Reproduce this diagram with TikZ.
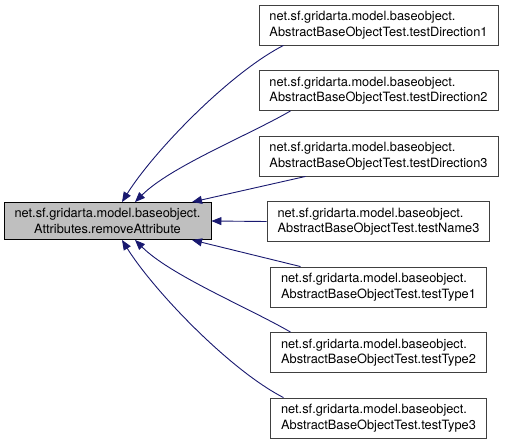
\documentclass[tikz,border=0pt]{standalone}
\usepackage{fontspec}
\setmainfont{TeX Gyre Heros}
\usepackage{xcolor}
\usepackage{tikz}
\usetikzlibrary{arrows.meta,positioning}
\definecolor{edgeblue}{HTML}{191970}
\definecolor{grey75}{HTML}{BFBFBF}
\definecolor{grey25}{HTML}{404040}
\tikzset{
  rootbox/.style={
    rectangle, draw=black, fill=grey75, line width=0.9pt,
    minimum width=207pt, minimum height=37pt,
    font=\fontsize{12.8}{15.5}\selectfont, align=center,
    inner sep=0pt
  },
  testbox/.style={
    rectangle, draw=grey25, fill=white, line width=0.9pt,
    minimum height=40pt,
    font=\fontsize{12.8}{15.5}\selectfont, align=left,
    inner xsep=10.5pt, inner ysep=0pt
  },
  callarrow/.style={
    -{Triangle[length=10pt,width=8pt]}, line width=0.9pt, color=edgeblue
  },
}
\begin{document}
\begin{tikzpicture}[
  x=1pt, y=1pt,
  node distance=24.6pt
]
\useasboundingbox (0,0) rectangle (508,-444);

% Called function
\node[rootbox] (remove) at (107.5,-221) {net.sf.gridarta.model.baseobject.\\Attributes.removeAttribute};

% Callers
\node[testbox] (dir1) at (378.5,-25) {net.sf.gridarta.model.baseobject.\\AbstractBaseObjectTest.testDirection1};
\node[testbox, below=of dir1] (dir2) {net.sf.gridarta.model.baseobject.\\AbstractBaseObjectTest.testDirection2};
\node[testbox, below=of dir2] (dir3) {net.sf.gridarta.model.baseobject.\\AbstractBaseObjectTest.testDirection3};
\node[testbox, below=of dir3] (name3) {net.sf.gridarta.model.baseobject.\\AbstractBaseObjectTest.testName3};
\node[testbox, below=of name3] (type1) {net.sf.gridarta.model.baseobject.\\AbstractBaseObjectTest.testType1};
\node[testbox, below=of type1] (type2) {net.sf.gridarta.model.baseobject.\\AbstractBaseObjectTest.testType2};
\node[testbox, below=of type2] (type3) {net.sf.gridarta.model.baseobject.\\AbstractBaseObjectTest.testType3};

% Call edges
\draw[callarrow] ([xshift=-95pt]dir1.south) .. controls +(207:60) and +(58:60) .. ([xshift=14.5pt]remove.north);
\draw[callarrow] ([xshift=-88pt]dir2.south) .. controls +(210:50) and +(45:50) .. ([xshift=27.5pt]remove.north);
\draw[callarrow] ([xshift=-73pt]dir3.south) -- ([xshift=84.5pt]remove.north);
\draw[callarrow] (name3.west) -- (remove.east);
\draw[callarrow] ([xshift=-78pt]type1.north) -- ([xshift=84.5pt]remove.south);
\draw[callarrow] ([xshift=-88pt]type2.north) .. controls +(150:50) and +(-45:50) .. ([xshift=27.5pt]remove.south);
\draw[callarrow] ([xshift=-95pt]type3.north) .. controls +(153:60) and +(-58:60) .. ([xshift=14.5pt]remove.south);

\end{tikzpicture}
\end{document}
